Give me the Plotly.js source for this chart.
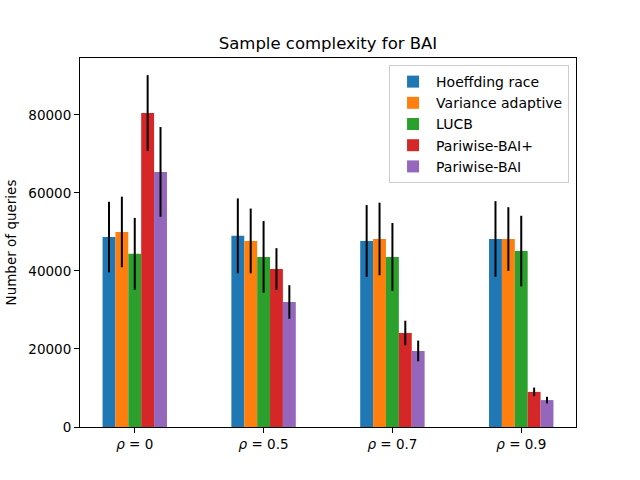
<!DOCTYPE html>
<html>
<head>
<meta charset="utf-8">
<script src="https://cdn.plot.ly/plotly-3.0.1.min.js"></script>
<style>
  html, body { margin: 0; padding: 0; background: white; }
  #chart { width: 640px; height: 480px; }
</style>
</head>
<body>
<div id="chart"></div>
<script>
// group positions and labels
var positions = [0, 1, 2, 3];
var tickLabels = ["<i>ρ</i> = 0", "<i>ρ</i> = 0.5", "<i>ρ</i> = 0.7", "<i>ρ</i> = 0.9"];

var seriesNames = ["Hoeffding race", "Variance adaptive", "LUCB", "Pariwise-BAI+", "Pariwise-BAI"];
var seriesColors = ["#1f77b4", "#ff7f0e", "#2ca02c", "#d62728", "#9467bd"];
var seriesOffsets = [-0.2, -0.1, 0, 0.1, 0.2];

// mean number of queries
var hoeffding = [48700, 49000, 47700, 48200];
var varianceAdaptive = [50000, 47700, 48200, 48200];
var lucb = [44400, 43600, 43600, 45100];
var pairwisePlus = [80500, 40500, 24100, 9000];
var pairwise = [65400, 32050, 19500, 6900];

// error bar half widths
var hoeffdingErr = [9050, 9600, 9200, 9700];
var varianceAdaptiveErr = [9050, 8300, 9300, 8150];
var lucbErr = [9200, 9200, 8700, 9050];
var pairwisePlusErr = [9700, 5350, 3150, 1100];
var pairwiseErr = [11500, 4300, 2650, 850];

var values = [hoeffding, varianceAdaptive, lucb, pairwisePlus, pairwise];
var errors = [hoeffdingErr, varianceAdaptiveErr, lucbErr, pairwisePlusErr, pairwiseErr];

var data = [];
for (var i = 0; i < seriesNames.length; i++) {
  data.push({
    type: "bar",
    name: seriesNames[i],
    x: positions.map(function (p) { return p + seriesOffsets[i]; }),
    y: values[i],
    width: 0.1,
    marker: { color: seriesColors[i], line: { width: 0 } },
    error_y: {
      type: "data",
      array: errors[i],
      visible: true,
      color: "black",
      thickness: 2,
      width: 0,
    },
  });
}

var axisFont = { family: "DejaVu Sans", size: 13.5, color: "black" };

var layout = {
  width: 640,
  height: 480,
  margin: { l: 80, r: 64, t: 58, b: 53 },
  paper_bgcolor: "white",
  plot_bgcolor: "white",
  font: { family: "DejaVu Sans", color: "black" },
  barmode: "overlay",
  showlegend: true,
  title: {
    text: "Sample complexity for BAI",
    font: { family: "DejaVu Sans", size: 16.5, color: "black" },
    x: 0.5,
    xref: "paper",
    y: 1 - 43 / 480,
    yref: "container",
    yanchor: "middle",
  },
  xaxis: {
    range: [-0.425, 3.425],
    tickvals: positions,
    ticktext: tickLabels,
    tickfont: axisFont,
    showline: true,
    mirror: true,
    linecolor: "black",
    linewidth: 1,
    ticks: "outside",
    ticklen: 5,
    tickcolor: "black",
    showgrid: false,
    zeroline: false,
  },
  yaxis: {
    range: [0, 94600],
    tickvals: [0, 20000, 40000, 60000, 80000],
    ticktext: ["0", "20000", "40000", "60000", "80000"],
    tickfont: axisFont,
    title: { text: "Number of queries", font: axisFont, standoff: 8 },
    showline: true,
    mirror: true,
    linecolor: "black",
    linewidth: 1,
    ticks: "outside",
    ticklen: 5,
    tickcolor: "black",
    showgrid: false,
    zeroline: false,
  },
  legend: {
    x: 0.986,
    xanchor: "right",
    y: 0.981,
    yanchor: "top",
    bgcolor: "rgba(255,255,255,0.8)",
    bordercolor: "#cccccc",
    borderwidth: 1,
    font: { family: "DejaVu Sans", size: 14, color: "black" },
    traceorder: "normal",
    itemwidth: 36,
  },
};

Plotly.newPlot("chart", data, layout, { staticPlot: true });
</script>
</body>
</html>
